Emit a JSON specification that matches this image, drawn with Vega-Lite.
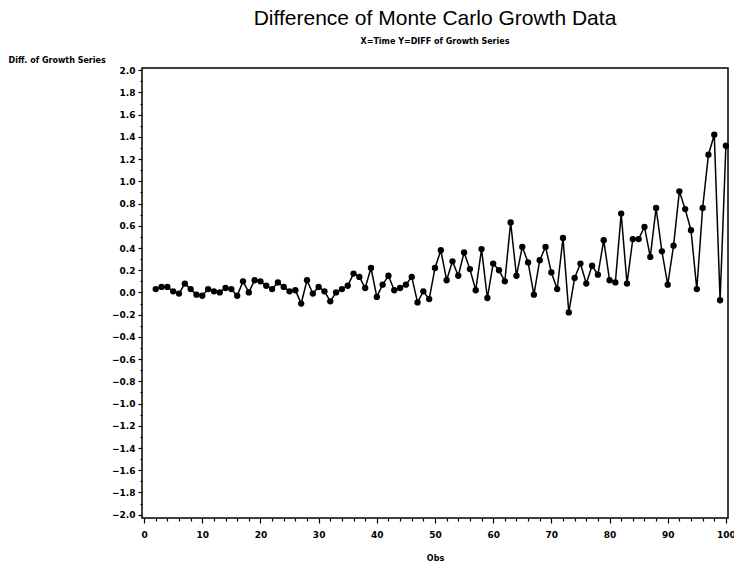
{
  "$schema": "https://vega.github.io/schema/vega-lite/v6.json",
  "width": 586,
  "height": 450,
  "autosize": {"type": "none"},
  "padding": {"left": 142, "top": 68, "right": 6, "bottom": 49},
  "background": "white",
  "title": {
    "text": "Difference of Monte Carlo Growth Data",
    "subtitle": "X=Time Y=DIFF  of Growth Series",
    "anchor": "middle",
    "frame": "group",
    "font": "Liberation Sans",
    "fontSize": 21,
    "fontWeight": "normal",
    "color": "black",
    "subtitleFont": "DejaVu Sans",
    "subtitleFontWeight": "bold",
    "subtitleFontSize": 8,
    "subtitleColor": "black",
    "subtitlePadding": 9,
    "offset": 10
  },
  "config": {
    "view": {"stroke": "black", "strokeWidth": 1.5},
    "axis": {
      "grid": false,
      "domain": false,
      "tickColor": "black",
      "tickWidth": 1.2,
      "labelColor": "black",
      "titleColor": "black",
      "labelFont": "DejaVu Sans",
      "labelFontWeight": "bold",
      "labelFontSize": 9,
      "titleFont": "DejaVu Sans",
      "titleFontWeight": "bold",
      "titleFontSize": 8
    }
  },
  "data": {
    "values": [
      {"t": 2, "diff": 0.03}, {"t": 3, "diff": 0.05}, {"t": 4, "diff": 0.05}, {"t": 5, "diff": 0.01},
      {"t": 6, "diff": -0.01}, {"t": 7, "diff": 0.08}, {"t": 8, "diff": 0.03}, {"t": 9, "diff": -0.02},
      {"t": 10, "diff": -0.03}, {"t": 11, "diff": 0.03}, {"t": 12, "diff": 0.01}, {"t": 13, "diff": 0.0},
      {"t": 14, "diff": 0.04}, {"t": 15, "diff": 0.03}, {"t": 16, "diff": -0.03}, {"t": 17, "diff": 0.10},
      {"t": 18, "diff": 0.0}, {"t": 19, "diff": 0.11}, {"t": 20, "diff": 0.10}, {"t": 21, "diff": 0.06},
      {"t": 22, "diff": 0.03}, {"t": 23, "diff": 0.09}, {"t": 24, "diff": 0.05}, {"t": 25, "diff": 0.01},
      {"t": 26, "diff": 0.02}, {"t": 27, "diff": -0.10}, {"t": 28, "diff": 0.11}, {"t": 29, "diff": -0.01},
      {"t": 30, "diff": 0.05}, {"t": 31, "diff": 0.01}, {"t": 32, "diff": -0.08}, {"t": 33, "diff": 0.0},
      {"t": 34, "diff": 0.03}, {"t": 35, "diff": 0.06}, {"t": 36, "diff": 0.17}, {"t": 37, "diff": 0.14},
      {"t": 38, "diff": 0.04}, {"t": 39, "diff": 0.22}, {"t": 40, "diff": -0.04}, {"t": 41, "diff": 0.07},
      {"t": 42, "diff": 0.15}, {"t": 43, "diff": 0.02}, {"t": 44, "diff": 0.04}, {"t": 45, "diff": 0.07},
      {"t": 46, "diff": 0.14}, {"t": 47, "diff": -0.09}, {"t": 48, "diff": 0.01}, {"t": 49, "diff": -0.06},
      {"t": 50, "diff": 0.22}, {"t": 51, "diff": 0.38}, {"t": 52, "diff": 0.11}, {"t": 53, "diff": 0.28},
      {"t": 54, "diff": 0.15}, {"t": 55, "diff": 0.36}, {"t": 56, "diff": 0.21}, {"t": 57, "diff": 0.02},
      {"t": 58, "diff": 0.39}, {"t": 59, "diff": -0.05}, {"t": 60, "diff": 0.26}, {"t": 61, "diff": 0.20},
      {"t": 62, "diff": 0.10}, {"t": 63, "diff": 0.63}, {"t": 64, "diff": 0.15}, {"t": 65, "diff": 0.41},
      {"t": 66, "diff": 0.27}, {"t": 67, "diff": -0.02}, {"t": 68, "diff": 0.29}, {"t": 69, "diff": 0.41},
      {"t": 70, "diff": 0.18}, {"t": 71, "diff": 0.03}, {"t": 72, "diff": 0.49}, {"t": 73, "diff": -0.18},
      {"t": 74, "diff": 0.13}, {"t": 75, "diff": 0.26}, {"t": 76, "diff": 0.08}, {"t": 77, "diff": 0.24},
      {"t": 78, "diff": 0.16}, {"t": 79, "diff": 0.47}, {"t": 80, "diff": 0.11}, {"t": 81, "diff": 0.09},
      {"t": 82, "diff": 0.71}, {"t": 83, "diff": 0.08}, {"t": 84, "diff": 0.48}, {"t": 85, "diff": 0.48},
      {"t": 86, "diff": 0.59}, {"t": 87, "diff": 0.32}, {"t": 88, "diff": 0.76}, {"t": 89, "diff": 0.37},
      {"t": 90, "diff": 0.07}, {"t": 91, "diff": 0.42}, {"t": 92, "diff": 0.91}, {"t": 93, "diff": 0.75},
      {"t": 94, "diff": 0.56}, {"t": 95, "diff": 0.03}, {"t": 96, "diff": 0.76}, {"t": 97, "diff": 1.24},
      {"t": 98, "diff": 1.42}, {"t": 99, "diff": -0.07}, {"t": 100, "diff": 1.32}
    ]
  },
  "resolve": {"axis": {"x": "independent", "y": "independent"}},
  "layer": [
    {
      "mark": {"type": "line", "color": "black", "strokeWidth": 1.5},
      "encoding": {
        "x": {
          "field": "t", "type": "quantitative",
          "scale": {"domain": [-0.36, 100.36], "nice": false, "zero": false},
          "axis": {
            "orient": "bottom",
            "values": [0, 10, 20, 30, 40, 50, 60, 70, 80, 90, 100],
            "tickSize": 5,
            "labelPadding": 7,
            "labelFlush": false,
            "title": "Obs",
            "titlePadding": 15
          }
        },
        "y": {
          "field": "diff", "type": "quantitative",
          "scale": {"domain": [-2.03, 2.02], "nice": false, "zero": false},
          "axis": {
            "orient": "left",
            "values": [-2, -1.8, -1.6, -1.4, -1.2, -1, -0.8, -0.6, -0.4, -0.2, 0, 0.2, 0.4, 0.6, 0.8, 1, 1.2, 1.4, 1.6, 1.8, 2],
            "format": ".1f",
            "tickSize": 4,
            "labelPadding": 3,
            "labelFlush": false,
            "title": "Diff. of Growth Series",
            "titleAngle": 0,
            "titleAlign": "left",
            "titleBaseline": "middle",
            "titleX": -134,
            "titleY": -8
          }
        }
      }
    },
    {
      "mark": {"type": "point", "filled": true, "color": "black", "opacity": 1, "size": 40},
      "encoding": {
        "x": {
          "field": "t", "type": "quantitative",
          "scale": {"domain": [-0.36, 100.36], "nice": false, "zero": false},
          "axis": {
            "orient": "bottom",
            "values": [2, 4, 6, 8, 12, 14, 16, 18, 22, 24, 26, 28, 32, 34, 36, 38, 42, 44, 46, 48, 52, 54, 56, 58, 62, 64, 66, 68, 72, 74, 76, 78, 82, 84, 86, 88, 92, 94, 96, 98],
            "tickSize": 3,
            "labels": false,
            "title": null
          }
        },
        "y": {
          "field": "diff", "type": "quantitative",
          "scale": {"domain": [-2.03, 2.02], "nice": false, "zero": false},
          "axis": {
            "orient": "left",
            "values": [-1.9, -1.7, -1.5, -1.3, -1.1, -0.9, -0.7, -0.5, -0.3, -0.1, 0.1, 0.3, 0.5, 0.7, 0.9, 1.1, 1.3, 1.5, 1.7, 1.9],
            "tickSize": 2,
            "labels": false,
            "title": null
          }
        }
      }
    }
  ]
}
